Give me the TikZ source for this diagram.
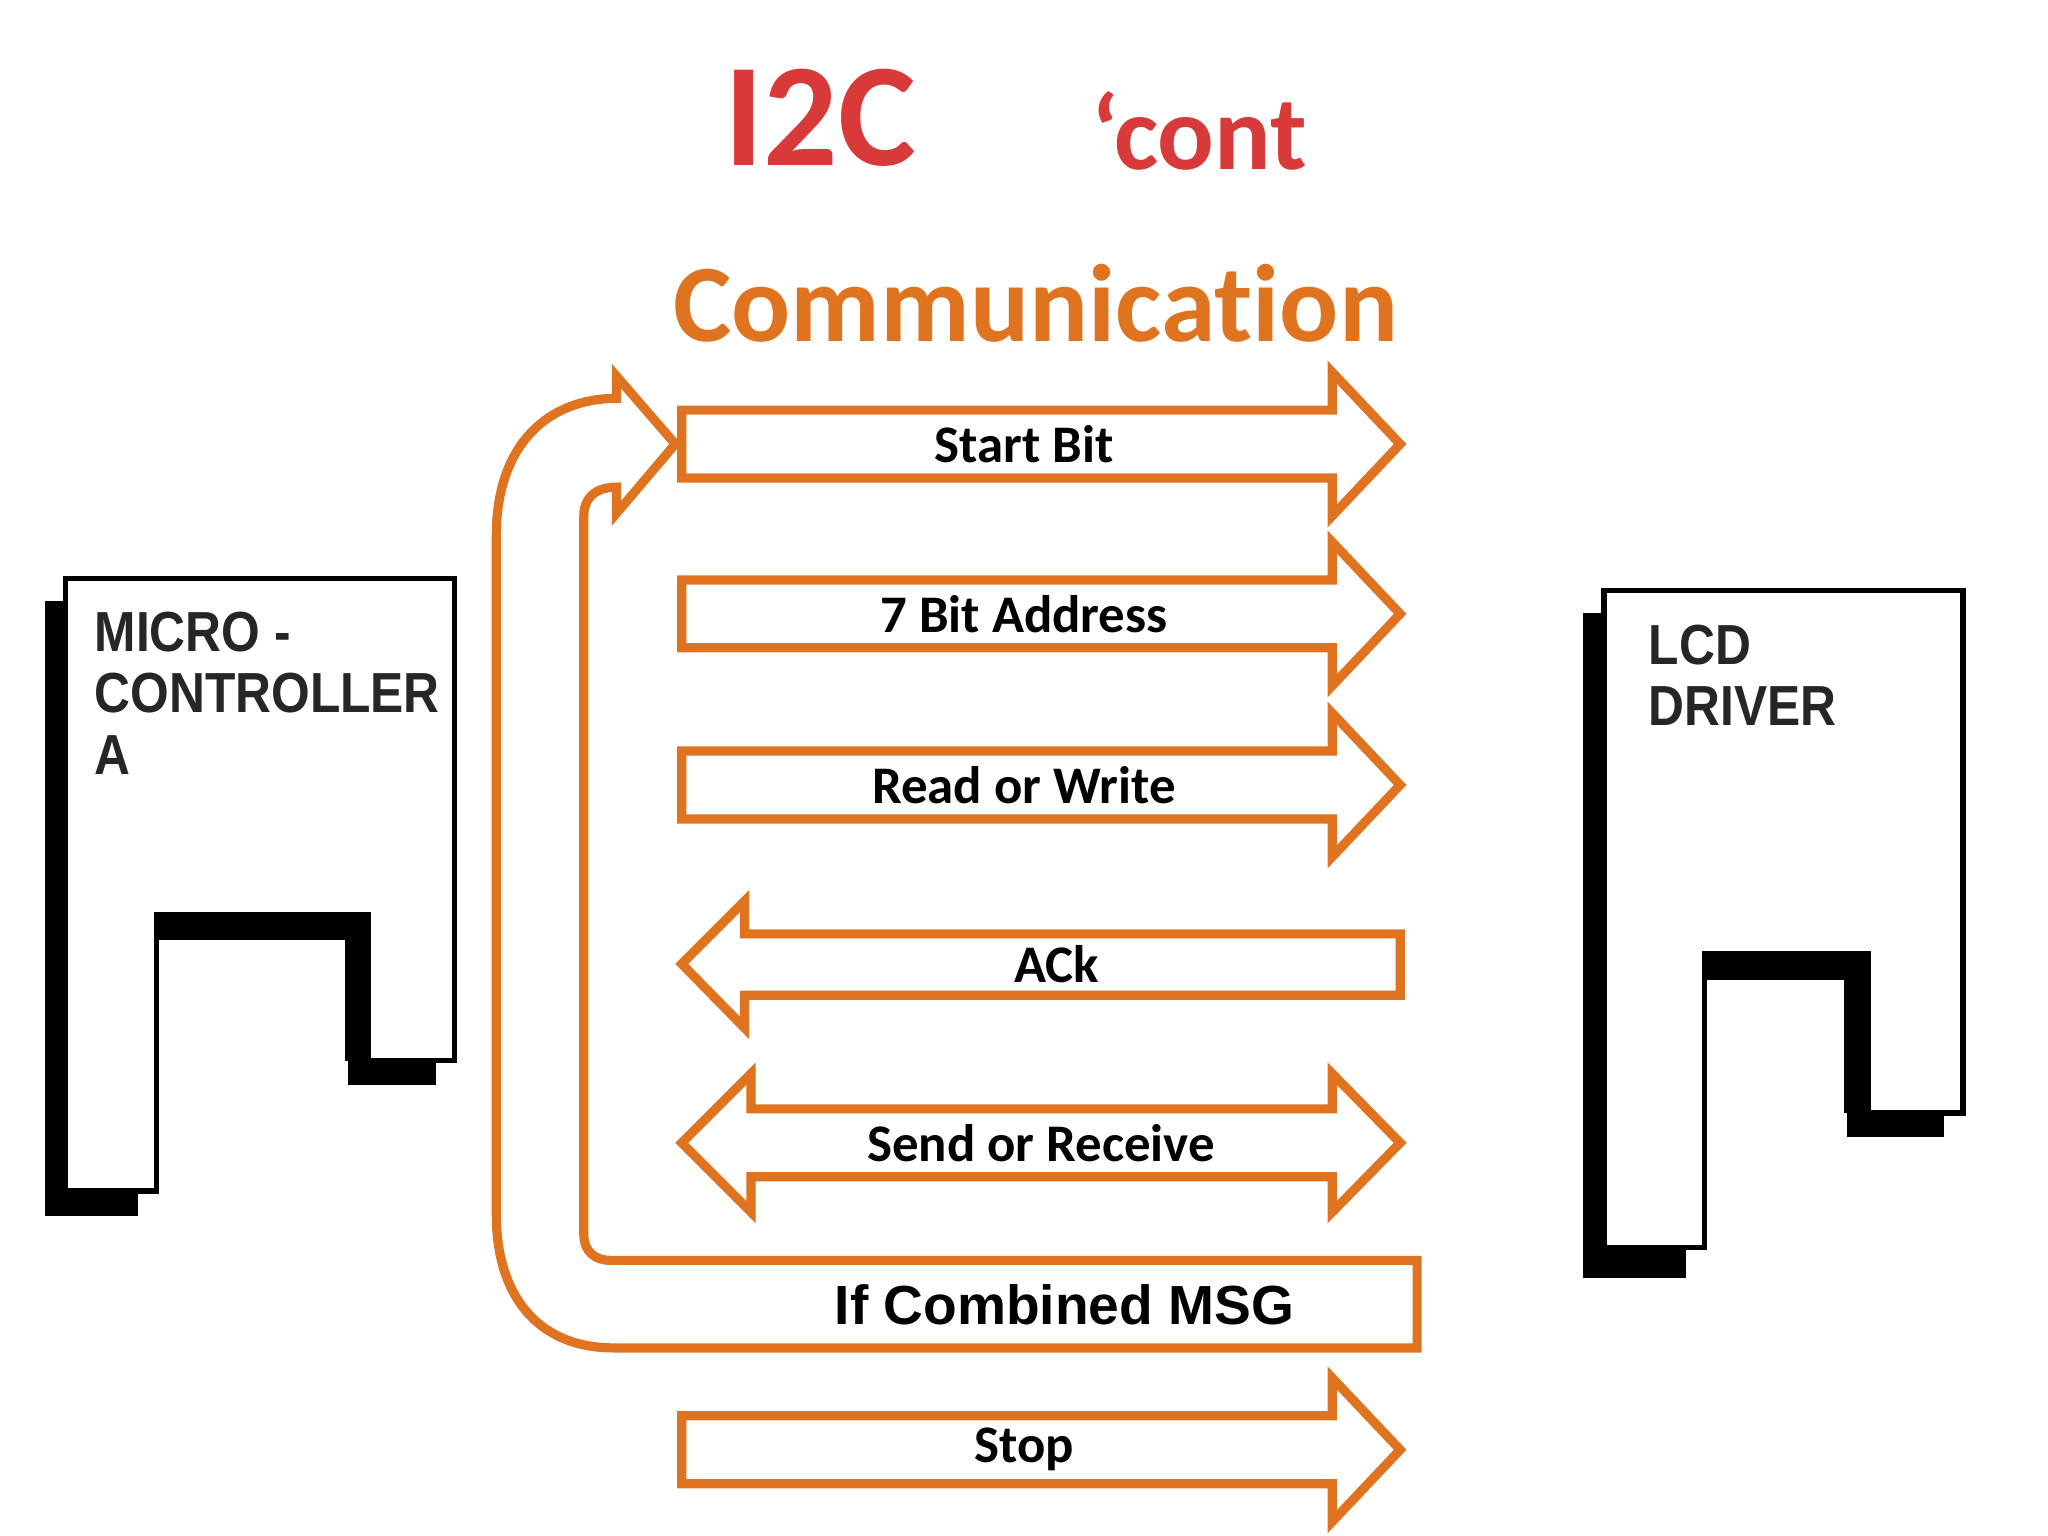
\documentclass[tikz,border=0pt]{standalone}
\usepackage{fontspec}
\setmainfont{Carlito}[Ligatures=NoCommon]
\newfontfamily\arialf{Liberation Sans}
\newfontfamily\arialn{Liberation Sans}[FakeStretch=0.88]
\definecolor{org}{HTML}{E0731F}
\definecolor{ired}{HTML}{D83A3A}
\begin{document}
\begin{tikzpicture}[x=0.01cm,y=-0.01cm,
  arr/.style={draw=org,line width=2pt,fill=white,line join=miter},
  lab/.style={font=\fontsize{11.5}{13}\selectfont\bfseries,text=black},
  chip/.style={font=\arialn\fontsize{12.3}{13.4}\selectfont\bfseries,text=black!85,align=left,anchor=north west}]
\useasboundingbox (0,0) rectangle (1568,1176);
% titles
\node[font=\fontsize{32}{34}\selectfont\bfseries,text=ired] (t1) at (628,90) {I2C};
\node[font=\fontsize{23}{25}\selectfont\bfseries,text=ired] (t2) at (918,100) {‘cont};
\node[font=\fontsize{24}{26}\selectfont\bfseries,text=org] (t3) at (793,232) {Communication};
% chip A
\draw[fill=black] (35,461)--(333,461)--(333,830)--(267,830)--(267,718)--(105,718)--(105,930)--(35,930)--cycle;
\draw[fill=white,line width=1.2pt] (50,443)--(348,443)--(348,812)--(282,812)--(282,700)--(120,700)--(120,912)--(50,912)--cycle;
\fill (120,700) rectangle (282,720);
\fill (264,700) rectangle (282,812);
\node[chip] (ca) at (60,456) {MICRO -\\CONTROLLER\\A};
% LCD
\draw[fill=black] (1213,470)--(1488,470)--(1488,870)--(1415,870)--(1415,748)--(1290,748)--(1290,978)--(1213,978)--cycle;
\draw[fill=white,line width=1.2pt] (1228,452)--(1503,452)--(1503,852)--(1430,852)--(1430,730)--(1305,730)--(1305,955)--(1228,955)--cycle;
\fill (1305,730) rectangle (1430,750);
\fill (1412,730) rectangle (1430,852);
\node[chip] (cl) at (1250,466) {LCD\\DRIVER};
% loop arrow
\draw[arr] (1085,965)--(1085,1032)--(470,1032) .. controls (410,1032) and (380,990) .. (380,930)
  --(380,410) .. controls (380,340) and (420,305) .. (472,305)--(472,288)--(517,340)--(472,393)--(472,373)
  .. controls (455,373) and (447,382) .. (447,395)--(447,945) .. controls (447,958) and (455,965) .. (468,965)--cycle;
\node[font=\arialf\fontsize{12}{14}\selectfont\bfseries] (cm) at (815,999) {If Combined MSG};
% right arrows
\foreach \y/\t/\n in {340/Start Bit/a1,470/7 Bit Address/a2,601/Read or Write/a3,1110/Stop/a7}{
  \draw[arr] (522,\y-26)--(1020,\y-26)--(1020,\y-55)--(1072,\y)--(1020,\y+55)--(1020,\y+26)--(522,\y+26)--cycle;
  \node[lab] (\n) at (784,\y) {\t};
}
% ACk
\draw[arr] (1072,715)--(570,715)--(570,690)--(522,738)--(570,787)--(570,762)--(1072,762)--cycle;
\node[lab] (a4) at (809,738) {ACk};
% send/receive
\draw[arr] (575,849)--(1020,849)--(1020,822)--(1072,875)--(1020,928)--(1020,901)--(575,901)--(575,928)--(522,875)--(575,822)--cycle;
\node[lab] (a5) at (797,875) {Send or Receive};
\end{tikzpicture}
\end{document}
